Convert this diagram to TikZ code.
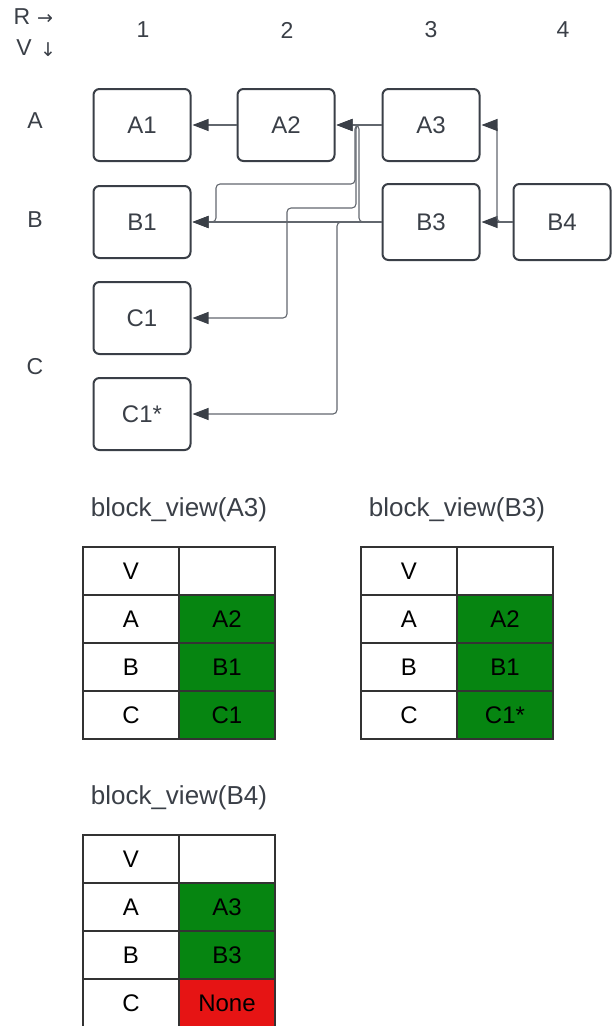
\documentclass[tikz,border=0pt]{standalone}
\usepackage{fontspec}
\setmainfont{Liberation Sans}
\newfontfamily\symfnt{DejaVu Sans}
\usetikzlibrary{arrows.meta}
\definecolor{ink}{HTML}{3A3F47}
\definecolor{wire}{HTML}{62676E}
\definecolor{okgreen}{RGB}{6,133,17}
\definecolor{badred}{RGB}{230,20,20}
\definecolor{tline}{HTML}{333333}
\newcommand{\fs}[1]{\fontsize{#1}{#1}\selectfont}
\newcommand{\bvtable}[8]{%
  \node[bvtitle] (#1-t) at (#2+96,#3-37) {#4};
  \node[cell] (#1-l0) at (#2+48,#3+24) {V};
  \node[cell] (#1-r0) at (#2+144,#3+24) {};
  \node[cell] (#1-l1) at (#2+48,#3+72) {A};
  \node[cell,fill=okgreen] (#1-r1) at (#2+144,#3+72) {#5};
  \node[cell] (#1-l2) at (#2+48,#3+120) {B};
  \node[cell,fill=okgreen] (#1-r2) at (#2+144,#3+120) {#6};
  \node[cell] (#1-l3) at (#2+48,#3+168) {C};
  \node[cell,fill=#8] (#1-r3) at (#2+144,#3+168) {#7};
}
\begin{document}
\begin{tikzpicture}[x=1pt,y=-1pt,
  blk/.style={draw=ink, line width=2pt, rounded corners=6pt, minimum width=97pt, minimum height=72pt, inner sep=0pt, text=ink, font=\fs{24}},
  blkT/.style={blk, minimum height=76pt},
  lbl/.style={text=ink, font=\fs{23}, inner sep=0pt},
  arr/.style={text=ink, font=\symfnt\fs{19}, inner sep=0pt},
  conn/.style={draw=wire, line width=1.1pt, rounded corners=4pt, -{Triangle[length=16pt,width=12pt,color=ink]}, shorten >=1pt},
  cell/.style={draw=tline, line width=1.8pt, minimum width=96pt, minimum height=48pt, inner sep=0pt, font=\fs{24}, text=black},
  bvtitle/.style={text=ink, font=\fs{26}, inner sep=0pt}]
\useasboundingbox (0,0) rectangle (612,1026);
% header
\node[lbl] (hR) at (22,17) {R};
\node[arr] (hRa) at (45,19) {→};
\node[lbl] (hV) at (24,48) {V};
\node[arr] (hVa) at (48,50) {↓};
\node[lbl] (c1) at (143,30) {1};
\node[lbl] (c2) at (287,30) {2};
\node[lbl] (c3) at (431,30) {3};
\node[lbl] (c4) at (563,30) {4};
\node[lbl] (rA) at (35,121) {A};
\node[lbl] (rB) at (35,220) {B};
\node[lbl] (rC) at (35,367) {C};
% blocks
\node[blk] (A1) at (142,125) {A1};
\node[blk] (A2) at (286,125) {A2};
\node[blk] (A3) at (431,125) {A3};
\node[blk] (B1) at (142,222) {B1};
\node[blkT] (B3) at (431,222) {B3};
\node[blkT] (B4) at (562,222) {B4};
\node[blk] (C1) at (142,318) {C1};
\node[blk] (C1s) at (142,414) {C1*};
% connectors
\draw[conn] (A2.west) -- (A1.east);
\draw[conn] (A3.west) -- (A2.east);
\draw[conn] (A3.west) -- (355,125) -- (355,184) -- (216,184) -- (216,222) -- (B1.east);
\draw[conn] (A3.west) -- (356,125) -- (356,208) -- (287,208) -- (287,318) -- (C1.east);
\draw[conn] (B3.west) -- (359,222) -- (359,125) -- (A2.east);
\draw[conn] (B3.west) -- (B1.east);
\draw[conn] (B3.west) -- (337,222) -- (337,414) -- (C1s.east);
\draw[conn] (B4.west) -- (B3.east);
\draw[conn] (B4.west) -- (497,222) -- (497,125) -- (A3.east);
% tables
\bvtable{TA3}{83}{547}{block\_view(A3)}{A2}{B1}{C1}{okgreen}
\bvtable{TB3}{361}{547}{block\_view(B3)}{A2}{B1}{C1*}{okgreen}
\bvtable{TB4}{83}{835}{block\_view(B4)}{A3}{B3}{None}{badred}
\end{tikzpicture}
\end{document}
